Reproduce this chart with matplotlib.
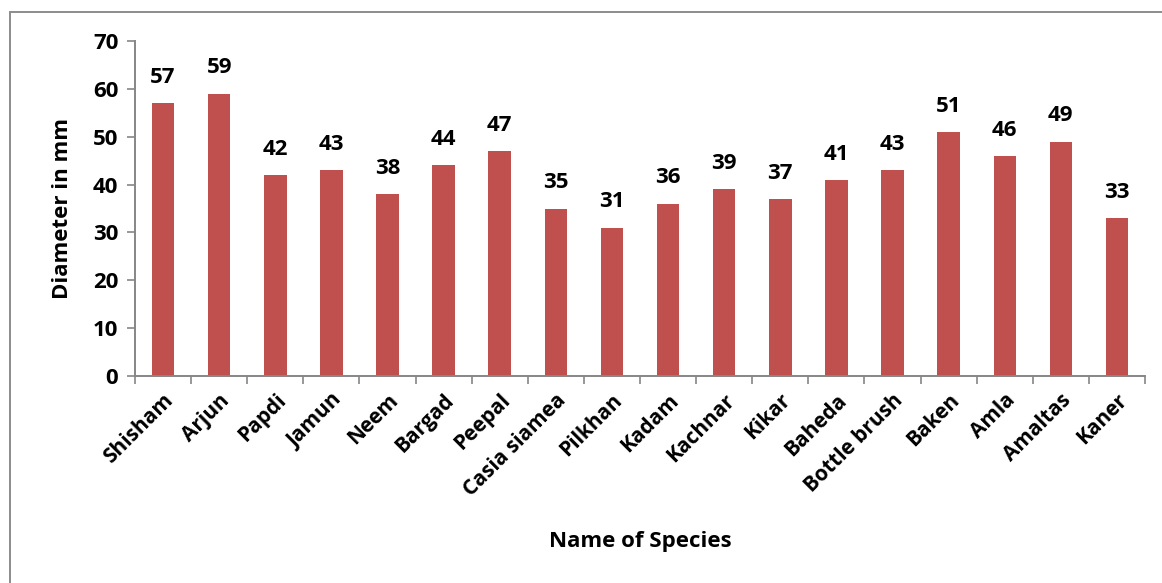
import matplotlib
matplotlib.use("Agg")
import matplotlib.pyplot as plt
from matplotlib.patches import Rectangle

species = ["Shisham", "Arjun", "Papdi", "Jamun", "Neem", "Bargad", "Peepal",
           "Casia siamea", "Pilkhan", "Kadam", "Kachnar", "Kikar", "Baheda",
           "Bottle brush", "Baken", "Amla", "Amaltas", "Kaner"]
diameter_mm = [57, 59, 42, 43, 38, 44, 47, 35, 31, 36, 39, 37, 41, 43, 51, 46, 49, 33]
y_ticks = [0, 10, 20, 30, 40, 50, 60, 70]

plt.rcParams['font.family'] = ['Open Sans', 'DejaVu Sans']
plt.rcParams['font.weight'] = 'bold'

W, H = 1162, 583
fig = plt.figure(figsize=(W / 100, H / 100), dpi=100)
fig.patch.set_facecolor("white")

# chart-area border
fig.add_artist(Rectangle((10 / W, -0.05), 1.2, 1 - 12 / H + 0.05,
                         transform=fig.transFigure, fill=False,
                         edgecolor="#8c8c8c", linewidth=1.4))

ax = fig.add_axes([135 / W, (H - 376) / H, (1145 - 135) / W, (376 - 41) / H])
x = list(range(len(species)))
ax.bar(x, diameter_mm, width=0.4, color="#C0504D", zorder=2)

for xi, v in zip(x, diameter_mm):
    ax.annotate(str(v), (xi, v), xytext=(0, 11), textcoords="offset points",
                ha="center", va="bottom", fontsize=16, fontweight="bold")

ax.set_xlim(-0.5, len(species) - 0.5)
ax.set_ylim(0, 70)
ax.set_yticks(y_ticks)
ax.set_yticklabels([str(t) for t in y_ticks], fontsize=16, fontweight="bold")

# ticks on category boundaries, labels centred on bars
ax.set_xticks([i - 0.5 for i in range(len(species) + 1)])
ax.set_xticklabels([])
ax.set_xticks(x, minor=True)
ax.set_xticklabels(species, minor=True, rotation=45, ha="right",
                   rotation_mode="anchor", fontsize=15, fontweight="bold")
ax.tick_params(axis="x", which="minor", length=0, pad=10)
ax.tick_params(axis="x", which="major", length=6, color="#868686", width=1.2)
ax.tick_params(axis="y", length=6, color="#868686", width=1.2, pad=6)

for side in ("top", "right"):
    ax.spines[side].set_visible(False)
for side in ("left", "bottom"):
    ax.spines[side].set_color("#868686")
    ax.spines[side].set_linewidth(1.4)

ax.set_ylabel("Diameter in mm", fontsize=16, fontweight="bold", va="center")
ax.yaxis.set_label_coords((62 - 135) / (1145 - 135), 0.5)
fig.text(640 / W, 1 - 542 / H, "Name of Species", ha="center", va="center",
         fontsize=16, fontweight="bold")

fig.savefig("out.png", dpi=100, facecolor="white")
